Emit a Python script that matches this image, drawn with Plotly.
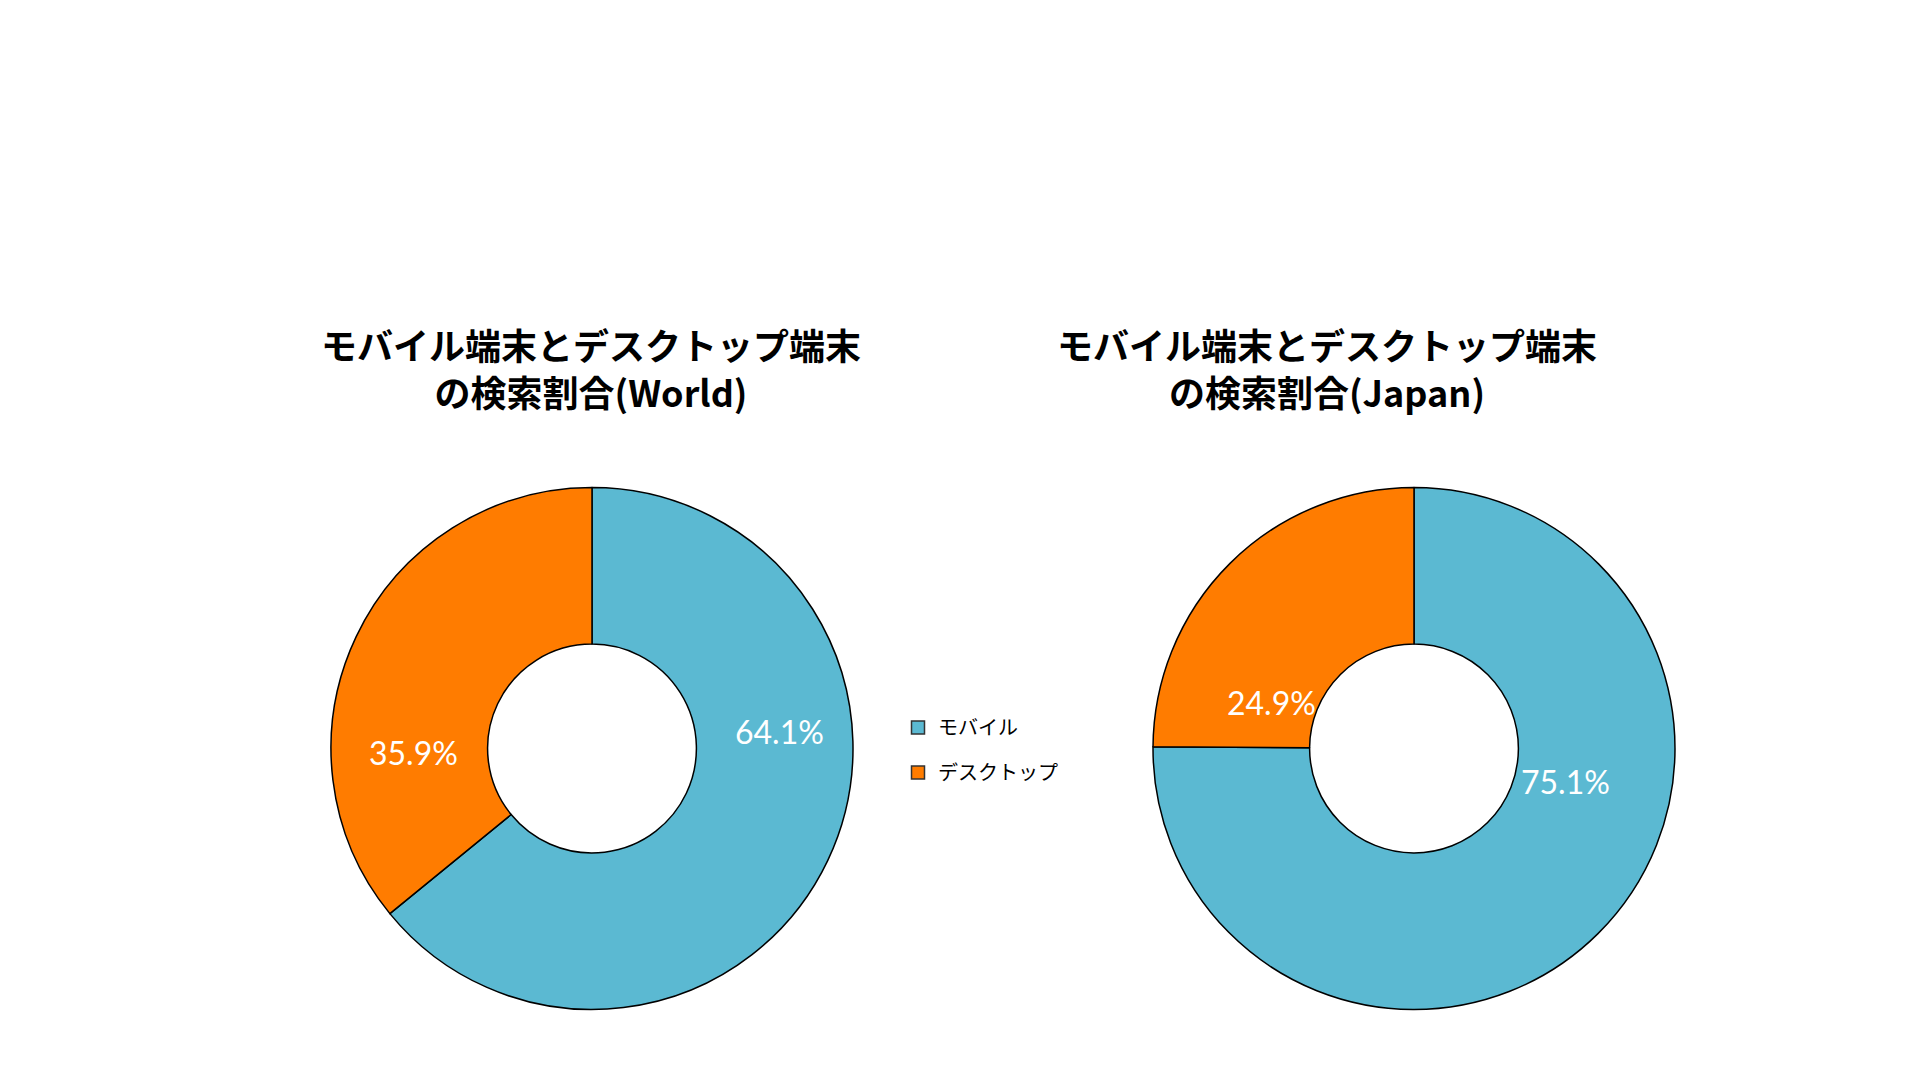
import plotly.graph_objects as go

# data
devices = ['モバイル', 'デスクトップ']
world_share = [64.1, 35.9]
japan_share = [75.1, 24.9]
titles = ['モバイル端末とデスクトップ端末<br>の検索割合(World)',
          'モバイル端末とデスクトップ端末<br>の検索割合(Japan)']

colors = ['#5BB9D2', '#FF7C00']
jp_font = 'Noto Sans CJK JP'
W, H = 1920, 1080

fig = go.Figure()

pie_domains = [[323 / W, 845 / W], [1145 / W, 1667 / W]]
for share, dom in zip([world_share, japan_share], pie_domains):
	fig.add_trace(go.Pie(labels=devices, values=share, hole=0.4, sort=False,
                      direction='clockwise', rotation=0, textinfo='none',
                      marker=dict(colors=colors, line=dict(color='black', width=1.5)),
                      domain=dict(x=dom, y=[1 - 1002 / H, 1 - 479 / H]),
                      showlegend=False, hoverinfo='label+value'))

# legend entries (dummy traces so the gap between items can be set)
for name, c in zip(devices, colors):
	fig.add_trace(go.Scatter(x=[None], y=[None], mode='markers', name=name, legendgroup=name,
                          marker=dict(symbol='square', size=13, color=c, line=dict(color='#333333', width=1.5))))

annotations = []
# chart titles
for t, xc in zip(titles, [583 / W, 1319 / W]):
	annotations.append(dict(text=f'<b>{t}</b>', x=xc, y=1 - 359 / H, xref='paper', yref='paper',
                         showarrow=False, xanchor='center', yanchor='middle',
                         font=dict(family=jp_font, size=36, color='black')))

# percentage labels
label_pos = [[(771, 723), (405, 744)], [(1557, 773), (1263, 694)]]
for share, pos in zip([world_share, japan_share], label_pos):
	for v, (px, py) in zip(share, pos):
		annotations.append(dict(text=f'{v:.1f}%', x=px / W, y=1 - py / H, xref='paper', yref='paper',
                             showarrow=False, xanchor='center', yanchor='middle',
                             font=dict(family='Lato', size=32, color='white')))

layout = go.Layout(width=W, height=H, margin=dict(l=0, r=0, t=0, b=0),
                   paper_bgcolor='white', plot_bgcolor='white',
                   xaxis=dict(visible=False), yaxis=dict(visible=False),
                   annotations=annotations,
                   legend=dict(x=890 / W, y=1 - 700 / H, xanchor='left', yanchor='top',
                               traceorder='grouped', tracegroupgap=16, itemwidth=30,
                               font=dict(family=jp_font, size=20, color='black')),
                   )
fig.update_layout(layout)
fig.write_html('out.html')
